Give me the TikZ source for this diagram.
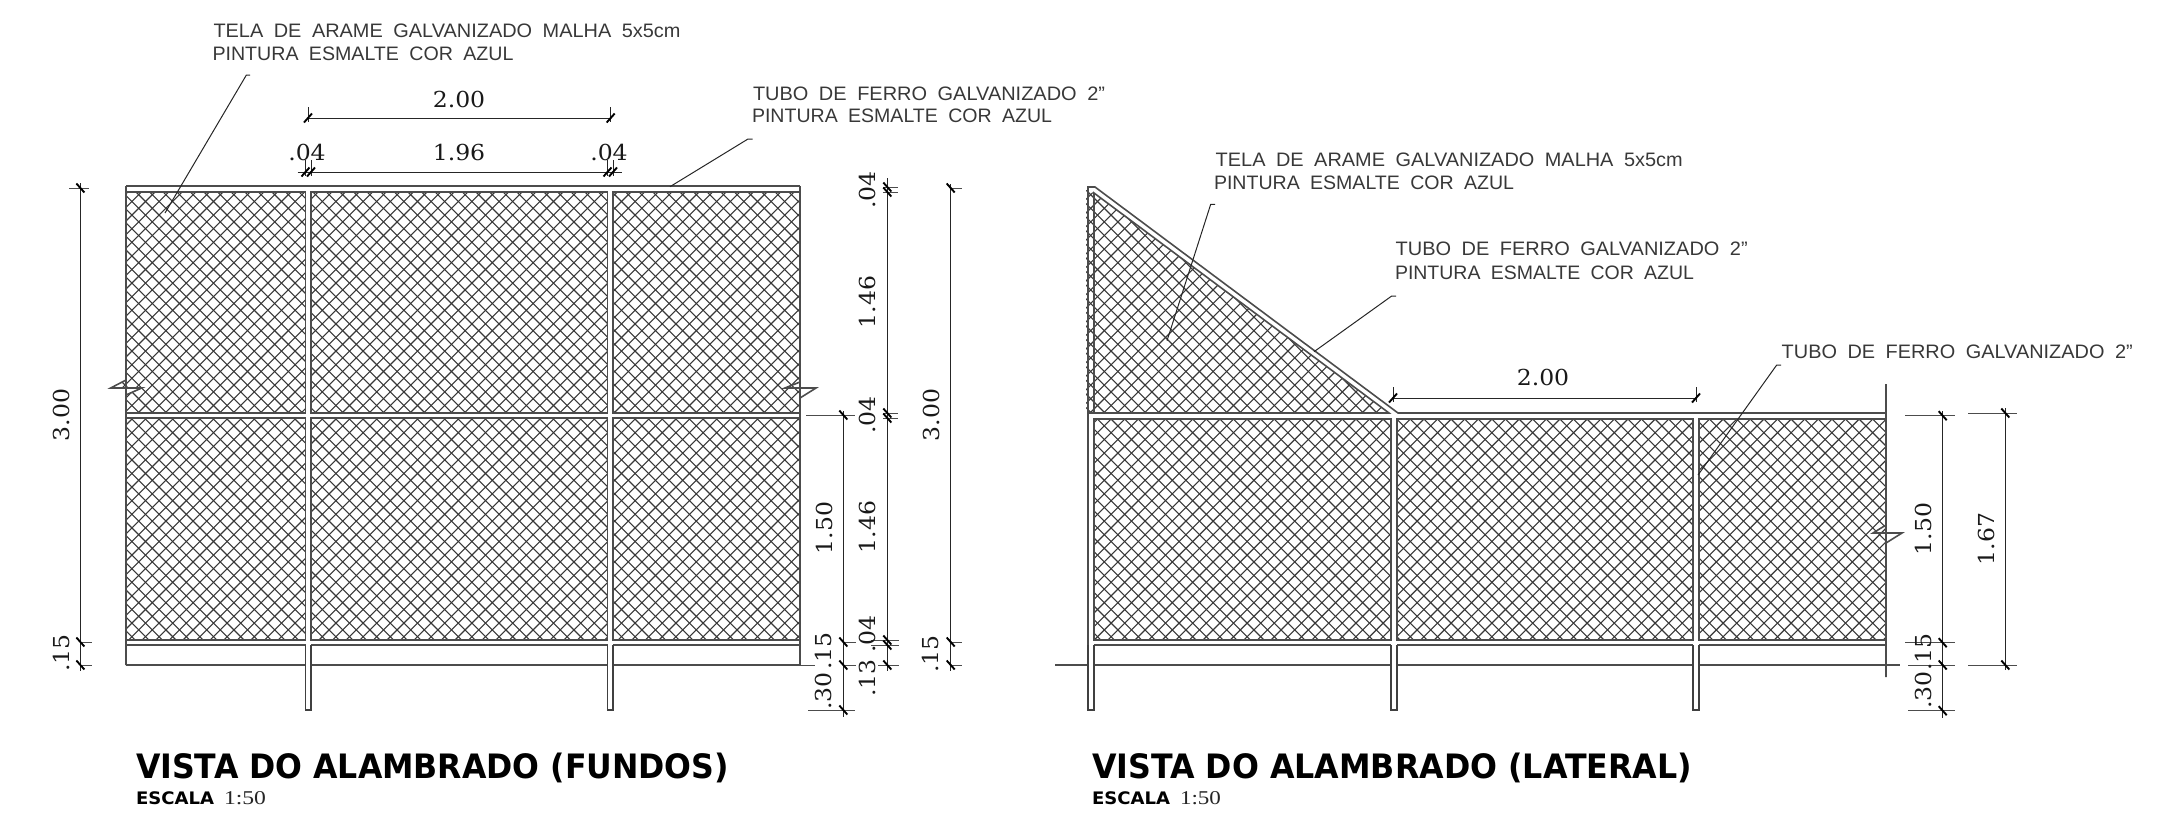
\documentclass[tikz,border=0pt]{standalone}
\usepackage{fontspec}
\usepackage{graphicx}
\newfontfamily\lblf[WordSpace=1.9]{Liberation Sans}
\newfontfamily\dimf{DejaVu Serif}
\newfontfamily\smlf{Liberation Serif}
\newfontfamily\ttlf{DejaVu Sans}
\newdimen\pxu \pxu=0.5pt
\newcommand\lbl[5]{\node[lbltext] (#1) at (#2,#3) {\resizebox{#4\pxu}{13.6\pxu}{\fontsize{9.75}{11}\lblf #5}};}
\newcommand\dmt[4]{\node[dimtext,rotate=#1] at (#2,#3) {\scalebox{1.07}[1]{\fontsize{11}{13}\dimf #4}};}
\newcommand\vmk[2]{\draw[tickmark] (#1-4,#2-4.5) -- (#1+4,#2+4.5);}
\newcommand\hmk[2]{\draw[tickmark] (#1-4,#2+4.5) -- (#1+4,#2-4.5);}
\newcommand\ttl[5]{\node[lbltext,text=black] (#1) at (#2,778) {\resizebox{#3\pxu}{25.5\pxu}{\fontsize{15.4}{18}\ttlf\bfseries #4}};
  \node[lbltext,text=black] at (#2,804) {\resizebox{#5\pxu}{12.8\pxu}{\fontsize{9}{11}\ttlf\bfseries ESCALA}};}
\tikzset{
  lbltext/.style={anchor=base west,inner sep=0pt,outer sep=0pt,text=black!78},
  dimtext/.style={inner sep=0pt,outer sep=0pt,text=black!90},
  frameline/.style={draw=black!70,line width=0.8pt},
  postline/.style={draw=black!75,line width=0.7pt},
  meshline/.style={draw=black!78,line width=0.55pt},
  dimline/.style={draw=black!85,line width=0.5pt},
  extline/.style={draw=black!70,line width=0.5pt},
  tickmark/.style={draw=black,line width=0.95pt},
  leader/.style={draw=black!85,line width=0.5pt}
}
\begin{document}
\begin{tikzpicture}[x=0.5pt,y=-0.5pt]
\useasboundingbox (0,0) rectangle (2169,814);
% ---- mesh
\begin{scope}
\clip (126,192) rectangle (305.5,413) (126,418) rectangle (305.5,640)
      (311,192) rectangle (607.5,413) (311,418) rectangle (607.5,640)
      (613,192) rectangle (800,413) (613,418) rectangle (800,640)
      (110.7,388) -- (126,380) -- (126,388) -- cycle
      (1094,419) rectangle (1391,640) (1397,419) rectangle (1693,640)
      (1699,419) rectangle (1886,640)
      (1086,190) -- (1094,193) -- (1389,413) -- (1086,413) -- cycle;
\foreach \k in {-56,...,164} {\draw[meshline] (-56+\k*13.6+150,150) -- (-56+\k*13.6+750,750);}
\foreach \k in {-13,...,186} {\draw[meshline] (360.6+\k*13.6-150,150) -- (360.6+\k*13.6-750,750);}
\end{scope}
\fill[white] (126,388) -- (141.7,388) -- (126,395) -- cycle;
% ---- left view frame
\draw[frameline] (126,186) -- (800,186);
\draw[frameline] (126,186) -- (126,380) -- (110.7,388) -- (141.7,388) -- (126,395) -- (126,665);
\draw[frameline] (800,186) -- (800,382) -- (785,388) -- (816,388) -- (800,398) -- (800,665);
\foreach \a/\b in {126/305.5,311/607.5,613/800} {
  \draw[frameline] (\a,192) rectangle (\b,413);
  \draw[frameline] (\a,418) rectangle (\b,640);
  \draw[frameline] (\a,645) -- (\b,645);
  \draw[frameline] (\a,665) -- (\b,665);
}
\foreach \a/\b in {305.5/311,607.5/613} {
  \draw[postline] (\a,645) -- (\a,710) -- (\b,710) -- (\b,645);
}
% ---- right view frame
\draw[frameline] (1094,413) -- (1094,193) -- (1389,413) -- (1088,413);
\draw[frameline] (1088,710) -- (1088,187) -- (1095,187) -- (1398,413) -- (1886,413);
\draw[frameline] (1886,384) -- (1886,525) -- (1873,533) -- (1902,533) -- (1886,543) -- (1886,677);
\foreach \a/\b in {1094/1391,1397/1693,1699/1886} {
  \draw[frameline] (\a,419) rectangle (\b,640);
  \draw[frameline] (\a,645) -- (\b,645);
  \draw[frameline] (\a,665) -- (\b,665);
}
\draw[frameline] (1055,665) -- (1088,665);
\draw[frameline] (1886,665) -- (1900,665);
\foreach \a/\b in {1088/1094,1391/1397,1693/1699} {
  \draw[postline] (\a,645) -- (\a,710) -- (\b,710) -- (\b,645);
}
% ---- labels + leaders, left view
\lbl{la}{213.5}{37}{467}{TELA DE ARAME GALVANIZADO MALHA 5x5cm}
\lbl{lb}{212.5}{60}{301}{PINTURA ESMALTE COR AZUL}
\draw[leader] (250,75) -- (246.4,75) -- (165,213);
\lbl{lc}{753}{100}{352}{TUBO DE FERRO GALVANIZADO 2”}
\lbl{ld}{752}{122.7}{300}{PINTURA ESMALTE COR AZUL}
\draw[leader] (752.7,139) -- (748,139) -- (670,186.7);
% ---- labels + leaders, right view
\lbl{le}{1215.7}{166}{467}{TELA DE ARAME GALVANIZADO MALHA 5x5cm}
\lbl{lf}{1214}{189}{300}{PINTURA ESMALTE COR AZUL}
\draw[leader] (1215,204.3) -- (1210.7,204.3) -- (1167,340.7);
\lbl{lg}{1395.7}{255}{352}{TUBO DE FERRO GALVANIZADO 2”}
\lbl{lh}{1395}{279}{299}{PINTURA ESMALTE COR AZUL}
\draw[leader] (1396,296) -- (1391.7,296) -- (1314,351.7);
\lbl{li}{1781.7}{358}{351}{TUBO DE FERRO GALVANIZADO 2”}
\draw[leader] (1781,365) -- (1776.7,365) -- (1698,475);
% ---- horizontal dimensions, left view
\draw[dimline] (308,118) -- (610.7,118);
\draw[dimline] (308,107) -- (308,122) (610.7,107) -- (610.7,122);
\hmk{308}{118} \hmk{610.7}{118}
\dmt{0}{459}{99}{2.00}
\draw[dimline] (297.5,172) -- (621.7,172);
\foreach \x in {305.5,311,607.5,613} {
  \draw[dimline] (\x,160) -- (\x,176);
  \hmk{\x}{172}
}
\dmt{0}{307}{152}{.04}
\dmt{0}{459}{152}{1.96}
\dmt{0}{609}{152}{.04}
% ---- vertical dimensions, left view
\draw[dimline] (80.4,183) -- (80.4,671);
\draw[extline] (69,188) -- (88.6,188) (80.4,642) -- (91.5,642) (80.4,665) -- (91.5,665);
\vmk{80.4}{188} \vmk{80.4}{642} \vmk{80.4}{665}
\dmt{90}{61}{415}{3.00}
\dmt{90}{61}{653}{.15}
\draw[dimline] (843.3,411) -- (843.3,717);
\draw[extline] (806,415) -- (855,415) (843.3,642) -- (856,642) (800,665) -- (815,665) (843.3,665) -- (856,665) (808,710) -- (855,710);
\vmk{843.3}{415} \vmk{843.3}{642} \vmk{843.3}{665} \vmk{843.3}{710}
\dmt{90}{824}{528}{1.50}
\dmt{90}{823}{651}{.15}
\dmt{90}{823}{691}{.30}
\draw[dimline] (887.3,178) -- (887.3,671);
\draw[extline] (883,187) -- (898,187) (883,192) -- (898,192) (883,413) -- (898,413) (883,418) -- (898,418)
  (871,640) -- (899,640) (871,645) -- (899,645) (878,665) -- (899,665);
\foreach \y in {187,192,413,418,640,645,665} {\vmk{887.3}{\y}}
\dmt{90}{867}{190}{.04}
\dmt{90}{867}{302}{1.46}
\dmt{90}{867}{415}{.04}
\dmt{90}{867}{527}{1.46}
\dmt{90}{867}{634}{.04}
\dmt{90}{867}{678}{.13}
\draw[dimline] (950.7,184) -- (950.7,671);
\draw[extline] (950.7,188) -- (962,188) (950.7,642) -- (962,642) (950.7,665) -- (962,665);
\vmk{950.7}{188} \vmk{950.7}{642} \vmk{950.7}{665}
\dmt{90}{931}{415}{3.00}
\dmt{90}{930}{654}{.15}
% ---- dimensions, right view
\draw[dimline] (1393,398) -- (1696,398);
\draw[dimline] (1393,387) -- (1393,402) (1696,387) -- (1696,402);
\hmk{1393}{398} \hmk{1696}{398}
\dmt{0}{1543}{377}{2.00}
\draw[dimline] (1942.7,411) -- (1942.7,718);
\draw[extline] (1905,415.7) -- (1955,415.7) (1905,642.7) -- (1955,642.7) (1908,665) -- (1955,665) (1908,710.7) -- (1955,710.7);
\vmk{1942.7}{415.7} \vmk{1942.7}{642.7} \vmk{1942.7}{665} \vmk{1942.7}{710.7}
\dmt{90}{1923}{529}{1.50}
\dmt{90}{1923}{652}{.15}
\dmt{90}{1923}{690}{.30}
\draw[dimline] (2005.3,408) -- (2005.3,670);
\draw[extline] (1968,413) -- (2017,413) (1968,665) -- (2017,665);
\vmk{2005.3}{413} \vmk{2005.3}{665}
\dmt{90}{1986}{539}{1.67}
% ---- titles
\ttl{ta}{136}{593}{VISTA DO ALAMBRADO (FUNDOS)}{78}
\ttl{tb}{1092}{600}{VISTA DO ALAMBRADO (LATERAL)}{78}
\node[lbltext,text=black!85] (sa) at (224,804) {\resizebox{42\pxu}{13\pxu}{\fontsize{9}{11}\smlf 1:50}};
\node[lbltext,text=black!85] (sb) at (1180,804) {\resizebox{41\pxu}{13\pxu}{\fontsize{9}{11}\smlf 1:50}};
\end{tikzpicture}
\end{document}
